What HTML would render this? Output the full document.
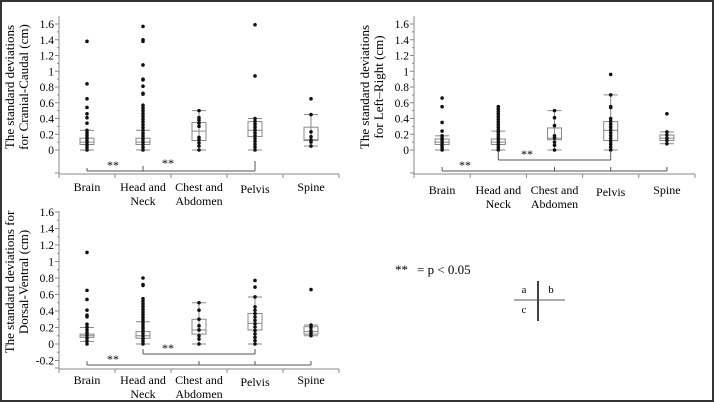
<!DOCTYPE html><html><head><meta charset="utf-8"><style>
body{margin:0;background:#fff}
svg{display:block}
text{font-family:"Liberation Serif","DejaVu Serif","Times New Roman",serif}
</style></head><body>
<svg id="s" width="714" height="402" xmlns="http://www.w3.org/2000/svg">
<rect x="1" y="1" width="712" height="400" fill="#fff" stroke="#333" stroke-width="2"/>
</svg>
<script>
const S=document.getElementById('s');let h='';
function L(x1,y1,x2,y2,c,w){h+=`<line x1="${x1}" y1="${y1}" x2="${x2}" y2="${y2}" stroke="${c||'#666'}" stroke-width="${w||1}"/>`;}
function T(x,y,t,s,a){h+=`<text x="${x}" y="${y}" font-size="${s||11}" text-anchor="${a||'middle'}">${t}</text>`;}
function chart(o){
 const {x0,x1,top,bot,y16,y0,ticks,data,titles,brackets,l1,l2}=o;
 const py=v=>y0+(y16-y0)*v/1.6;
 L(x0,top,x0,bot,'#888');L(x0,bot,x1,bot,'#888');
 ticks.forEach(v=>{const y=py(v);L(x0-4,y,x0,y,'#888');T(x0-5,y+4,v==0?'0':String(v),11.5,'end');
   if(v<1.6){L(x0-2,py(v+0.1),x0,py(v+0.1),'#888');}});
 L(x0-4,bot-1,x0,bot-1,'#888');
 const w=(x1-x0)/5;
 for(let i=0;i<=5;i++)L(x0+i*w,bot,x0+i*w,bot+4,'#888');
 const names=[['Brain'],['Head and','Neck'],['Chest and','Abdomen'],['Pelvis'],['Spine']];
 names.forEach((n,i)=>{const cx=x0+w*i+w/2;T(cx,bot+l1+(i==3?2:0),n[0],12);if(n[1])T(cx,bot+l2,n[1],12);});
 data.forEach((d,i)=>{const cx=x0+w*i+w/2;const [wl,q1,md,q3,wh,pts]=d;
  L(cx,py(wl),cx,py(wh),'#888');L(cx-7,py(wl),cx+7,py(wl),'#888');L(cx-7,py(wh),cx+7,py(wh),'#888');
  h+=`<rect x="${cx-7}" y="${py(q3)}" width="14" height="${py(q1)-py(q3)}" fill="none" stroke="#888"/>`;
  L(cx-7,py(md),cx+7,py(md),'#888');
  pts.forEach(v=>{h+=`<circle cx="${cx}" cy="${py(v)}" r="1.8" fill="#111"/>`;});
 });
 h+=`<text transform="translate(${x0-45},${(top+bot)/2-8}) rotate(-90)" font-size="13" text-anchor="middle">${titles[0]}</text>`;
 h+=`<text transform="translate(${x0-31},${(top+bot)/2-8}) rotate(-90)" font-size="13" text-anchor="middle">${titles[1]}</text>`;
 brackets.forEach(b=>{const [a,c,y,upA,upC,mids,sx,sy]=b;const xa=x0+w*a+w/2,xc=x0+w*c+w/2;
  L(xa,y,xc,y,'#555');L(xa,y-upA,xa,y,'#555');L(xc,y-upC,xc,y,'#555');
  (mids||[]).forEach(m=>{const xm=x0+w*m+w/2;L(xm,y-4,xm,y,'#555');});
  T(sx,sy,'**',12,'middle');});
}
const rng=(a,b,n)=>{const r=[];for(let i=0;i<n;i++)r.push(a+(b-a)*i/(n-1));return r;};
chart({x0:59,x1:339,top:16,bot:174,y16:24,y0:150,l1:17,l2:31,ticks:[0,0.2,0.4,0.6,0.8,1,1.2,1.4,1.6],
 titles:['The standard deviations','for Cranial-Caudal (cm)'],
 data:[[0,0.07,0.1,0.15,0.25,[...rng(0,0.25,9),0.34,0.41,0.46,0.54,0.65,0.84,1.38]],
  [0,0.07,0.1,0.15,0.25,[...rng(0,0.57,17),0.71,0.72,0.81,0.89,0.9,1.08,1.38,1.4,1.57]],
  [0,0.12,0.24,0.35,0.5,[0,0.05,0.09,0.13,0.16,0.3,0.34,0.38,0.41,0.5]],
  [0,0.17,0.25,0.36,0.4,[...rng(0,0.4,12),0.94,1.59]],
  [0.05,0.12,0.13,0.29,0.45,[0.05,0.1,0.13,0.17,0.23,0.45,0.65]]],
 brackets:[[0,3,171,3,10,[1],113,169],[1,1,171,5,0,[],168,167]]});
chart({x0:414,x1:695,top:16,bot:174,y16:24,y0:150,l1:20,l2:34,ticks:[0,0.2,0.4,0.6,0.8,1,1.2,1.4,1.6],
 titles:['The standard deviations','for Left–Right (cm)'],
 data:[[0,0.07,0.1,0.14,0.18,[...rng(0,0.18,7),0.24,0.35,0.55,0.66]],
  [0,0.07,0.1,0.14,0.24,[...rng(0,0.55,18)]],
  [0,0.13,0.15,0.28,0.5,[0,0.06,0.1,0.15,0.18,0.31,0.41,0.5]],
  [0,0.12,0.25,0.36,0.7,[...rng(0,0.4,12),0.54,0.55,0.7,0.96]],
  [0.08,0.12,0.15,0.19,0.23,[0.08,0.12,0.15,0.19,0.23,0.46]]],
 brackets:[[0,4,171,4,4,[2,3],465,169],[1,3,160,8,8,[],527,158]]});
chart({x0:59,x1:339,top:211,bot:369,y16:212,y0:344,l1:15,l2:29,ticks:[-0.2,0,0.2,0.4,0.6,0.8,1,1.2,1.4,1.6],
 titles:['The standard deviations for','Dorsal-Ventral (cm)'],
 data:[[0.03,0.08,0.1,0.12,0.2,[...rng(0,0.24,8),0.33,0.35,0.41,0.54,0.65,1.11]],
  [0,0.07,0.1,0.15,0.27,[...rng(0,0.55,18),0.71,0.72,0.8]],
  [0,0.12,0.17,0.3,0.5,[0,0.06,0.1,0.17,0.22,0.3,0.41,0.5]],
  [0,0.17,0.25,0.37,0.57,[...rng(0,0.45,12),0.57,0.69,0.77]],
  [0.1,0.12,0.15,0.21,0.23,[0.1,0.13,0.16,0.2,0.23,0.66]]],
 brackets:[[0,4,365,4,4,[2,3],113,363],[1,3,354,5,5,[],168,352]]});
h+=`<text x="395" y="274" font-size="13">**</text><text x="417" y="274" font-size="13">= p &lt; 0.05</text>`;
L(538,281,538,321,'#000',1.5);L(514,300,565,300,'#555',1);
T(524,293,'a',11);T(551,293,'b',11);T(524,313,'c',11);
S.insertAdjacentHTML('beforeend',h);
</script>
</body></html>
